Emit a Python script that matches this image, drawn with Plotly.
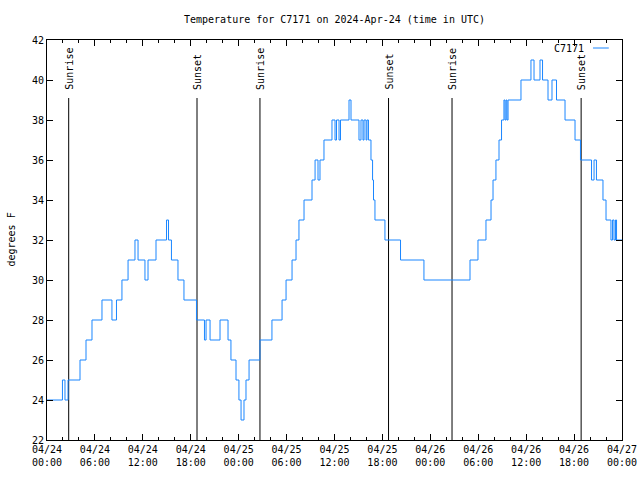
import plotly.graph_objects as go

# Temperature step data (time of change, value in degrees F)
times = [
    "2024-04-24 00:00", "2024-04-24 01:56", "2024-04-24 02:15", "2024-04-24 02:38",
    "2024-04-24 04:08", "2024-04-24 04:53", "2024-04-24 05:38", "2024-04-24 06:53",
    "2024-04-24 08:08", "2024-04-24 08:42", "2024-04-24 09:23", "2024-04-24 10:09",
    "2024-04-24 11:01", "2024-04-24 11:24", "2024-04-24 12:16", "2024-04-24 12:39",
    "2024-04-24 13:39", "2024-04-24 14:58", "2024-04-24 15:13", "2024-04-24 15:35",
    "2024-04-24 16:24", "2024-04-24 17:09", "2024-04-24 18:43", "2024-04-24 19:43",
    "2024-04-24 19:55", "2024-04-24 20:25", "2024-04-24 21:40", "2024-04-24 22:40",
    "2024-04-24 23:02", "2024-04-24 23:40", "2024-04-25 00:02", "2024-04-25 00:18",
    "2024-04-25 00:40", "2024-04-25 00:55", "2024-04-25 01:18", "2024-04-25 02:40",
    "2024-04-25 04:10", "2024-04-25 05:26", "2024-04-25 05:56", "2024-04-25 06:41",
    "2024-04-25 07:11", "2024-04-25 07:33", "2024-04-25 08:11", "2024-04-25 09:11",
    "2024-04-25 09:34", "2024-04-25 09:56", "2024-04-25 10:11", "2024-04-25 10:41",
    "2024-04-25 11:41", "2024-04-25 12:04", "2024-04-25 12:15", "2024-04-25 12:34",
    "2024-04-25 12:45", "2024-04-25 13:49", "2024-04-25 14:04", "2024-04-25 15:04",
    "2024-04-25 15:19", "2024-04-25 15:34", "2024-04-25 15:42", "2024-04-25 15:57",
    "2024-04-25 16:04", "2024-04-25 16:15", "2024-04-25 16:34", "2024-04-25 16:46",
    "2024-04-25 16:53", "2024-04-25 17:04", "2024-04-25 18:19", "2024-04-25 20:16",
    "2024-04-25 23:12", "2024-04-26 04:58", "2024-04-26 05:58", "2024-04-26 06:58",
    "2024-04-26 07:36", "2024-04-26 07:51", "2024-04-26 08:13", "2024-04-26 08:36",
    "2024-04-26 08:55", "2024-04-26 09:13", "2024-04-26 09:21", "2024-04-26 09:29",
    "2024-04-26 09:36", "2024-04-26 09:44", "2024-04-26 11:21", "2024-04-26 12:36",
    "2024-04-26 12:59", "2024-04-26 13:44", "2024-04-26 14:03", "2024-04-26 14:44",
    "2024-04-26 15:14", "2024-04-26 15:48", "2024-04-26 16:52", "2024-04-26 18:07",
    "2024-04-26 18:48", "2024-04-26 20:11", "2024-04-26 20:30", "2024-04-26 20:48",
    "2024-04-26 21:37", "2024-04-26 22:00", "2024-04-26 22:37", "2024-04-26 22:49",
    "2024-04-26 23:00", "2024-04-26 23:11", "2024-04-26 23:19", "2024-04-27 00:00",
]
temps = [
    24, 25, 24, 25,
    26, 27, 28, 29,
    28, 29, 30, 31,
    32, 31, 30, 31,
    32, 33, 32, 31,
    30, 29, 28, 27,
    28, 27, 28, 27,
    26, 25, 24, 23,
    24, 25, 26, 27,
    28, 29, 30, 31,
    32, 33, 34, 35,
    36, 35, 36, 37,
    38, 37, 38, 37,
    38, 39, 38, 37,
    38, 37, 38, 37,
    38, 37, 36, 35,
    34, 33, 32, 31,
    30, 31, 32, 33,
    34, 35, 36, 37,
    38, 39, 38, 39,
    38, 39, 40, 41,
    40, 41, 40, 39,
    40, 39, 38, 37,
    36, 35, 36, 35,
    34, 33, 32, 33,
    32, 33, 32, 32,
]

# Sun events
sun_times = ["2024-04-24 02:43", "2024-04-24 18:47", "2024-04-25 02:40",
             "2024-04-25 18:46", "2024-04-26 02:43", "2024-04-26 18:53"]
sun_labels = ["Sunrise", "Sunset", "Sunrise", "Sunset", "Sunrise", "Sunset"]

x_range = ["2024-04-24 00:00", "2024-04-27 00:00"]
y_range = [22, 42]
line_top = 39.1

FONT = "DejaVu Sans Mono"
BLUE = "#1a86ff"

W, H = 640, 480
ML, MR, MT, MB = 47, 18, 40, 40

fig = go.Figure()

# Sunrise/sunset vertical lines
sx, sy = [], []
for t in sun_times:
    sx += [t, t, None]
    sy += [y_range[0], line_top, None]
fig.add_trace(go.Scatter(x=sx, y=sy, mode="lines",
                         line=dict(color="black", width=1),
                         hoverinfo="skip", showlegend=False))

fig.add_trace(go.Scatter(x=times, y=temps, mode="lines", line_shape="hv",
                         line=dict(color=BLUE, width=1), name="C7171",
                         showlegend=False))

for t, lab in zip(sun_times, sun_labels):
    fig.add_annotation(x=t, xref="x", y=0.87, yref="paper", text=lab,
                       textangle=-90, showarrow=False, xanchor="center",
                       yanchor="bottom", font=dict(family=FONT, size=10, color="black"))

# Legend (gnuplot style: text then sample line)
fig.add_annotation(x=0.938, xref="paper", y=0.98, yref="paper", text="C7171",
                   showarrow=False, xanchor="right", yanchor="middle",
                   font=dict(family=FONT, size=10, color="black"))
fig.add_shape(type="line", xref="paper", yref="paper", x0=0.9496, x1=0.977,
              y0=0.98, y1=0.98, line=dict(color=BLUE, width=1))

# Y axis title
fig.add_annotation(x=(10.5 - ML) / 575, xref="paper", y=0.5, yref="paper", text="degrees F",
                   textangle=-90, showarrow=False, xanchor="center", yanchor="middle",
                   font=dict(family=FONT, size=10, color="black"))

fig.update_layout(
    width=W, height=H,
    margin=dict(l=ML, r=MR, t=MT, b=MB, autoexpand=False),
    paper_bgcolor="white", plot_bgcolor="white",
    font=dict(family=FONT, size=10, color="black"),
    title=dict(text="Temperature for C7171 on 2024-Apr-24 (time in UTC)",
               x=334.5 / W, xanchor="center", y=1 - 19 / H, yanchor="middle",
               font=dict(family=FONT, size=10, color="black")),
    showlegend=False,
)

fig.update_xaxes(type="date", range=x_range, tick0="2024-04-24 00:00",
                 dtick=6 * 3600 * 1000, tickformat="%m/%d<br>%H:%M",
                 ticks="inside", ticklen=6, tickcolor="black", tickwidth=1,
                 minor=dict(dtick=2 * 3600 * 1000, ticks="inside", ticklen=3,
                            tickcolor="black", showgrid=False),
                 showline=True, linecolor="black", linewidth=1, mirror="allticks",
                 showgrid=False, zeroline=False, automargin=False,
                 tickfont=dict(family=FONT, size=10, color="black"))
fig.update_yaxes(range=y_range, dtick=2, tick0=22,
                 ticks="inside", ticklen=6, tickcolor="black", tickwidth=1,
                 showline=True, linecolor="black", linewidth=1, mirror="allticks",
                 showgrid=False, zeroline=False, automargin=False,
                 tickfont=dict(family=FONT, size=10, color="black"))

# Remove the browser's default 8px body margin so the 640x480 figure fills the window
fig.write_html("out.html", config={"displayModeBar": False},
               post_script="document.body.style.margin='0';")
